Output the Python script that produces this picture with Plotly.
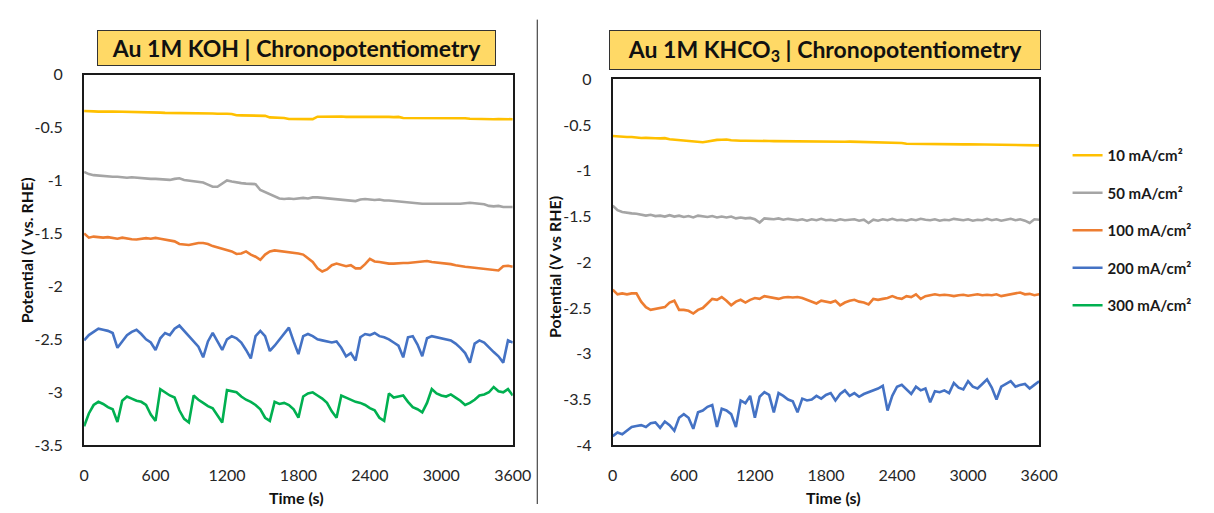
import plotly.graph_objects as go

# ---------------- data ----------------
TIME = list(range(0, 3601, 40))  # s

LEGEND_NAMES = ["10 mA/cm²", "50 mA/cm²", "100 mA/cm²", "200 mA/cm²", "300 mA/cm²"]
COLORS = ["#FFC000", "#A5A5A5", "#ED7D31", "#4472C4", "#00B050"]

# Au 1M KOH
koh_10 = [-0.345, -0.35, -0.348, -0.35, -0.352, -0.35, -0.349, -0.35, -0.35, -0.352, -0.35, -0.351, -0.35, -0.352, -0.355, -0.356,
          -0.36, -0.362, -0.362, -0.363, -0.362, -0.364, -0.365,
          -0.367, -0.368, -0.367, -0.369, -0.368, -0.37, -0.368, -0.37, -0.372,
          -0.385, -0.386, -0.386, -0.387, -0.386, -0.388, -0.39,
          -0.405, -0.406, -0.405, -0.41,
          -0.42, -0.421, -0.42, -0.422, -0.42, -0.421,
          -0.398, -0.397, -0.398, -0.399, -0.398, -0.397, -0.4, -0.398, -0.399, -0.398, -0.4, -0.399, -0.398, -0.4, -0.401, -0.4, -0.402, -0.4,
          -0.41, -0.41, -0.409, -0.411, -0.41, -0.41, -0.412, -0.41, -0.411, -0.41, -0.412, -0.411, -0.41, -0.413,
          -0.418, -0.42, -0.419, -0.421, -0.42, -0.422, -0.42, -0.421, -0.42, -0.422]
koh_50 = [-0.92, -0.94, -0.95, -0.955, -0.96, -0.96, -0.965, -0.965, -0.97, -0.975, -0.97, -0.975, -0.98, -0.98, -0.985, -0.985,
          -0.99, -0.99, -0.995, -0.985, -0.98, -0.995, -1.0, -1.005, -1.01, -1.02, -1.04, -1.06, -1.06, -1.03, -1.0,
          -1.01, -1.02, -1.025, -1.03, -1.03, -1.035, -1.09, -1.11, -1.13, -1.15, -1.17, -1.175, -1.17, -1.175, -1.17,
          -1.165, -1.17, -1.16, -1.16, -1.165, -1.17, -1.175, -1.18, -1.185, -1.19, -1.19, -1.195, -1.18, -1.175, -1.18,
          -1.185, -1.18, -1.19, -1.19, -1.195, -1.2, -1.2, -1.205, -1.21, -1.215, -1.22, -1.22, -1.22, -1.225, -1.225,
          -1.22, -1.225, -1.225, -1.22, -1.215, -1.21, -1.215, -1.22, -1.225, -1.24, -1.245, -1.24, -1.25, -1.25, -1.25]
koh_100 = [-1.50, -1.54, -1.53, -1.535, -1.54, -1.535, -1.545, -1.55, -1.54, -1.55, -1.555, -1.557, -1.55, -1.545, -1.55, -1.542,
           -1.55, -1.56, -1.57, -1.575, -1.60, -1.605, -1.61, -1.60, -1.59, -1.59, -1.60, -1.62, -1.633, -1.65, -1.664,
           -1.67, -1.694, -1.69, -1.67, -1.70, -1.72, -1.75, -1.70, -1.67, -1.66, -1.665, -1.675, -1.68, -1.685, -1.69,
           -1.70, -1.735, -1.77, -1.83, -1.86, -1.84, -1.80, -1.785, -1.80, -1.81, -1.80, -1.83, -1.83, -1.79, -1.74,
           -1.765, -1.77, -1.78, -1.785, -1.785, -1.78, -1.78, -1.78, -1.775, -1.77, -1.77, -1.76, -1.77, -1.775, -1.775,
           -1.78, -1.79, -1.80, -1.81, -1.815, -1.82, -1.825, -1.83, -1.835, -1.84, -1.85, -1.85, -1.81, -1.805, -1.815]
koh_200 = [-2.51, -2.46, -2.43, -2.40, -2.41, -2.42, -2.44, -2.58, -2.52, -2.46, -2.43, -2.41, -2.45, -2.50, -2.53, -2.60,
           -2.49, -2.44, -2.46, -2.40, -2.37, -2.42, -2.47, -2.53, -2.57, -2.67, -2.52, -2.44, -2.52, -2.60, -2.50,
           -2.47, -2.49, -2.53, -2.60, -2.68, -2.47, -2.42, -2.47, -2.61, -2.56, -2.50, -2.44, -2.39, -2.52, -2.64,
           -2.47, -2.45, -2.47, -2.50, -2.51, -2.52, -2.53, -2.52, -2.58, -2.66, -2.63, -2.70, -2.48, -2.45, -2.46,
           -2.44, -2.47, -2.48, -2.50, -2.53, -2.56, -2.67, -2.48, -2.47, -2.55, -2.66, -2.49, -2.47, -2.48, -2.49,
           -2.50, -2.51, -2.54, -2.58, -2.63, -2.72, -2.54, -2.51, -2.53, -2.58, -2.62, -2.66, -2.72, -2.51, -2.53]
koh_300 = [-3.32, -3.20, -3.12, -3.09, -3.11, -3.14, -3.16, -3.28, -3.08, -3.04, -3.06, -3.08, -3.09, -3.12, -3.21, -3.27,
           -2.97, -3.00, -3.03, -3.05, -3.17, -3.25, -3.285, -3.03, -3.07, -3.10, -3.13, -3.15, -3.22, -3.285, -2.98,
           -2.99, -3.00, -3.04, -3.07, -3.09, -3.12, -3.16, -3.24, -3.27, -3.09, -3.11, -3.10, -3.12, -3.16, -3.24,
           -3.04, -3.01, -3.00, -3.03, -3.06, -3.10, -3.18, -3.24, -3.03, -3.05, -3.07, -3.09, -3.10, -3.12, -3.15,
           -3.17, -3.24, -3.27, -3.01, -3.05, -3.04, -3.03, -3.09, -3.14, -3.16, -3.19, -3.10, -2.97, -3.01, -3.03,
           -3.04, -3.02, -3.05, -3.08, -3.12, -3.10, -3.07, -3.03, -3.02, -3.00, -2.95, -2.99, -3.00, -2.97, -3.03]

# Au 1M KHCO3
khco3_10 = [-0.62, -0.625, -0.625, -0.63, -0.63, -0.64, -0.642, -0.64, -0.645, -0.644, -0.645, -0.643, -0.655, -0.66, -0.665, -0.67,
            -0.672, -0.675, -0.678, -0.688, -0.68, -0.668, -0.662, -0.66, -0.658, -0.665, -0.67, -0.672, -0.671, -0.67, -0.672,
            -0.673, -0.672, -0.674, -0.675, -0.676, -0.677, -0.678, -0.677, -0.678, -0.679, -0.68, -0.679, -0.68, -0.681, -0.68,
            -0.681, -0.68, -0.681, -0.682, -0.681, -0.682, -0.683, -0.684, -0.685, -0.69, -0.69, -0.692, -0.693, -0.694, -0.695,
            -0.696, -0.705, -0.706, -0.705, -0.706, -0.707, -0.708, -0.709, -0.708, -0.709, -0.71, -0.709, -0.71, -0.711, -0.71,
            -0.711, -0.712, -0.712, -0.713, -0.713, -0.714, -0.715, -0.716, -0.716, -0.717, -0.718, -0.72, -0.719, -0.72, -0.722]
khco3_50 = [-1.38, -1.43, -1.45, -1.46, -1.465, -1.47, -1.48, -1.49, -1.48, -1.495, -1.49, -1.5, -1.485, -1.5, -1.49, -1.505,
            -1.495, -1.51, -1.49, -1.5, -1.505, -1.495, -1.51, -1.5, -1.51, -1.5, -1.52, -1.51, -1.52, -1.515, -1.53,
            -1.565, -1.52, -1.525, -1.53, -1.52, -1.535, -1.525, -1.535, -1.54, -1.53, -1.545, -1.53, -1.54, -1.525, -1.54,
            -1.535, -1.545, -1.53, -1.54, -1.535, -1.53, -1.545, -1.535, -1.57, -1.535, -1.545, -1.53, -1.54, -1.525, -1.54,
            -1.535, -1.545, -1.53, -1.54, -1.525, -1.535, -1.54, -1.53, -1.545, -1.535, -1.54, -1.525, -1.535, -1.54, -1.53,
            -1.545, -1.535, -1.54, -1.525, -1.54, -1.53, -1.545, -1.535, -1.525, -1.54, -1.53, -1.545, -1.57, -1.53, -1.535]
khco3_100 = [-2.30, -2.35, -2.34, -2.35, -2.34, -2.34, -2.43, -2.49, -2.52, -2.51, -2.50, -2.49, -2.44, -2.42, -2.52, -2.52,
             -2.53, -2.56, -2.52, -2.50, -2.45, -2.40, -2.41, -2.38, -2.42, -2.47, -2.43, -2.41, -2.44, -2.41, -2.39,
             -2.40, -2.37, -2.38, -2.39, -2.40, -2.385, -2.38, -2.385, -2.38, -2.39, -2.41, -2.43, -2.45, -2.42, -2.43,
             -2.44, -2.42, -2.47, -2.44, -2.42, -2.41, -2.43, -2.44, -2.46, -2.40, -2.41, -2.40, -2.39, -2.37, -2.39,
             -2.40, -2.37, -2.38, -2.35, -2.40, -2.37, -2.36, -2.35, -2.36, -2.355, -2.36, -2.37, -2.36, -2.355, -2.365,
             -2.36, -2.35, -2.36, -2.355, -2.36, -2.35, -2.37, -2.36, -2.355, -2.34, -2.33, -2.35, -2.345, -2.36, -2.35]
khco3_200 = [-3.90, -3.86, -3.88, -3.84, -3.80, -3.79, -3.78, -3.80, -3.76, -3.75, -3.81, -3.74, -3.78, -3.84, -3.70, -3.66,
             -3.70, -3.82, -3.64, -3.62, -3.58, -3.56, -3.80, -3.60, -3.62, -3.66, -3.80, -3.51, -3.54, -3.46, -3.70,
             -3.47, -3.42, -3.45, -3.64, -3.43, -3.46, -3.50, -3.52, -3.64, -3.49, -3.51, -3.50, -3.46, -3.49, -3.45,
             -3.43, -3.51, -3.44, -3.40, -3.46, -3.43, -3.47, -3.44, -3.42, -3.40, -3.38, -3.35, -3.62, -3.46, -3.36,
             -3.34, -3.39, -3.44, -3.36, -3.40, -3.38, -3.53, -3.41, -3.42, -3.40, -3.43, -3.32, -3.37, -3.39, -3.30,
             -3.36, -3.38, -3.33, -3.28, -3.37, -3.50, -3.36, -3.33, -3.30, -3.36, -3.34, -3.33, -3.38, -3.34, -3.30]

KOH_SERIES = [koh_10, koh_50, koh_100, koh_200, koh_300]
KHCO3_SERIES = [khco3_10, khco3_50, khco3_100, khco3_200]

X_TICKS = [0, 600, 1200, 1800, 2400, 3000, 3600]
Y_TICKS_KOH = [0, -0.5, -1, -1.5, -2, -2.5, -3, -3.5]
Y_TICKS_KHCO3 = [0, -0.5, -1, -1.5, -2, -2.5, -3, -3.5, -4]


def fmt(v):
    return "%g" % v  # keeps ASCII hyphen-minus like the original


# ---------------- figure ----------------
W, H = 1214, 513
fig = go.Figure()

for name, col, ys in zip(LEGEND_NAMES, COLORS, KOH_SERIES):
    fig.add_trace(go.Scatter(x=TIME, y=ys, mode="lines", name="<b>%s</b>" % name,
                             line=dict(color=col, width=2.6), xaxis="x", yaxis="y",
                             legendgroup=name))
for name, col, ys in zip(LEGEND_NAMES, COLORS, KHCO3_SERIES):
    fig.add_trace(go.Scatter(x=TIME, y=ys, mode="lines", name=name, showlegend=False,
                             line=dict(color=col, width=2.6), xaxis="x2", yaxis="y2",
                             legendgroup=name))


def px_x(p):
    return p / W


def px_y(p):
    return 1 - p / H


FONT = "Lato, 'Open Sans', sans-serif"
tick_font = dict(family=FONT, size=16, color="#262626")
axis_common = dict(showgrid=False, zeroline=False, showline=True, linecolor="#1a1a1a",
                   linewidth=2, mirror=True, ticks="", tickfont=tick_font)

fig.update_layout(
    width=W, height=H,
    margin=dict(l=0, r=0, t=0, b=0),
    paper_bgcolor="white", plot_bgcolor="white",
    xaxis=dict(domain=[px_x(80.7), px_x(518)], range=[0, 3600], tickvals=X_TICKS,
               ticktext=[fmt(v) for v in X_TICKS], anchor="y", ticklabelstandoff=15, **axis_common),
    yaxis=dict(domain=[px_y(452), px_y(67)], range=[-3.5, 0], tickvals=Y_TICKS_KOH,
               ticktext=[fmt(v) for v in Y_TICKS_KOH], anchor="x", ticklabelstandoff=16, **axis_common),
    xaxis2=dict(domain=[px_x(620), px_x(1055)], range=[0, 3600], tickvals=X_TICKS,
                ticktext=[fmt(v) for v in X_TICKS], anchor="y2", ticklabelstandoff=15, **axis_common),
    yaxis2=dict(domain=[px_y(452), px_y(72)], range=[-4, 0], tickvals=Y_TICKS_KHCO3,
                ticktext=[fmt(v) for v in Y_TICKS_KHCO3], anchor="x2", ticklabelstandoff=16, **axis_common),
    showlegend=True,
    legend=dict(x=px_x(1084), y=px_y(134), xanchor="left", yanchor="top",
                font=dict(family=FONT, size=15, color="#1a1a1a"),
                tracegroupgap=15, itemwidth=30, bgcolor="rgba(0,0,0,0)"),
)

title_font = dict(family=FONT, size=23, color="#111")
lab_font = dict(family=FONT, size=16, color="#111")
fig.add_annotation(x=px_x(297.5), y=px_y(39), xref="paper", yref="paper", xanchor="center", yanchor="middle",
                   text="<b>Au 1M KOH | Chronopotentiometry</b>", showarrow=False, font=title_font,
                   bgcolor="#FFD966", bordercolor="#333333", borderwidth=1, width=395, height=32)
fig.add_annotation(x=px_x(837), y=px_y(42), xref="paper", yref="paper", xanchor="center", yanchor="middle",
                   text="<b>Au 1M KHCO<sub>3</sub> | Chronopotentiometry</b>", showarrow=False, font=title_font,
                   bgcolor="#FFD966", bordercolor="#333333", borderwidth=1, width=428, height=36)

fig.add_annotation(x=px_x(22), y=px_y(250), xref="paper", yref="paper", text="<b>Potential (V vs. RHE)</b>",
                   textangle=-90, showarrow=False, font=lab_font, xanchor="center", yanchor="middle")
fig.add_annotation(x=px_x(560), y=px_y(267), xref="paper", yref="paper", text="<b>Potential (V vs RHE)</b>",
                   textangle=-90, showarrow=False, font=lab_font, xanchor="center", yanchor="middle")
fig.add_annotation(x=px_x(297), y=px_y(506), xref="paper", yref="paper", text="<b>Time (s)</b>",
                   showarrow=False, font=lab_font, xanchor="center", yanchor="middle")
fig.add_annotation(x=px_x(845), y=px_y(506), xref="paper", yref="paper", text="<b>Time (s)</b>",
                   showarrow=False, font=lab_font, xanchor="center", yanchor="middle")

fig.add_shape(type="line", xref="paper", yref="paper", x0=px_x(543), x1=px_x(543), y0=0, y1=px_y(10),
              line=dict(color="#222", width=1))

fig.write_html("out.html")
